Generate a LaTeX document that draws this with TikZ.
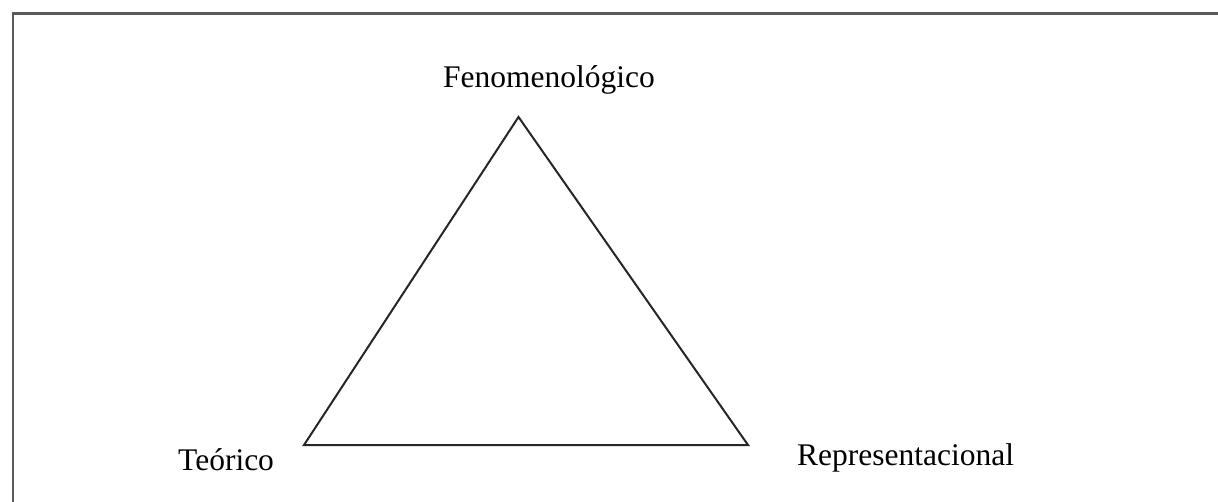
\documentclass[tikz,border=0pt]{standalone}
\usepackage{fontspec}
\setmainfont{Liberation Serif}
\begin{document}
\begin{tikzpicture}[x=1pt,y=-1pt,
  lbl/.style={inner sep=0pt,anchor=base west,font=\fontsize{31.5}{36}\selectfont},
  edge/.style={line width=2pt,black!85},
  frame/.style={line width=2.6pt,black!65}]
\useasboundingbox (0,0) rectangle (1218,502);
\coordinate (ftl) at (13,13.5);
\coordinate (ftr) at (1218,13.5);
\coordinate (fbl) at (13,502);
\draw[frame] (ftr) -- (ftl) -- (fbl);
\coordinate (apex) at (518.5,117);
\coordinate (bl) at (304,445);
\coordinate (br) at (748,445);
\draw[edge,line join=miter] (apex) -- (bl) -- (br) -- cycle;
\node[lbl] (fen) at (443,88) {Fenomenológico};
\node[lbl] (teo) at (178,470) {Teórico};
\node[lbl] (rep) at (797,465) {Representacional};
\end{tikzpicture}
\end{document}
